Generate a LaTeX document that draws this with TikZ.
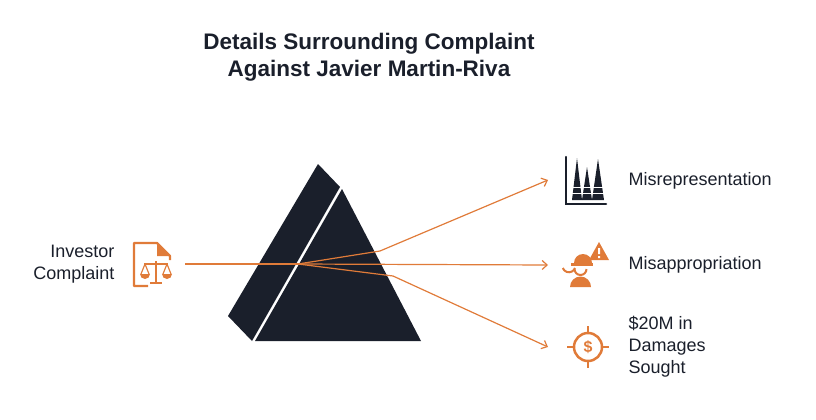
\documentclass[tikz,border=0pt]{standalone}
\usepackage{fontspec}
\setmainfont{Liberation Sans}
\usetikzlibrary{arrows.meta}
\definecolor{org}{HTML}{E07B39}
\definecolor{drk}{HTML}{1A1F2B}
\begin{document}
\begin{tikzpicture}[x=1pt,y=-1pt,
  ray/.style={draw=org,line width=1.2pt},
  arr/.style={ray,-{Straight Barb[length=5pt,width=9pt]}},
  lbl/.style={font=\fontsize{18}{22}\selectfont,text=drk},
  ico/.style={fill=org,draw=none}]
\useasboundingbox (0,0) rectangle (816,420);
\node[font=\bfseries\fontsize{22.5}{27}\selectfont,text=drk,align=center] (title) at (369,57) {Details Surrounding Complaint\\Against Javier Martin-Riva};
% prism
\fill[drk] (318,164) -- (340,187) -- (252,341) -- (228,316) -- cycle;
\fill[drk] (342,189) -- (421,341) -- (255,341) -- cycle;
% rays
\coordinate (src) at (185,264);
\coordinate (o) at (298,264);
\coordinate (b1) at (380,251);
\coordinate (b3) at (393,276);
\coordinate (t1) at (548,180);
\coordinate (t2) at (548,265);
\coordinate (t3) at (548,347);
\draw[ray] (src) -- (o);
\draw[arr] (o) -- (b1) -- (t1);
\draw[arr] (o) -- (t2);
\draw[arr] (o) -- (b3) -- (t3);
% left icon & label
\node[lbl,align=right,anchor=east] (inv) at (118,264) {Investor\\Complaint};
\begin{scope}[shift={(153,264)}]
 \draw[org,line width=2.4pt,line join=round] (-5,22) -- (-19,22) -- (-19,-21) -- (4,-21) -- (17,-8) -- (17,-4);
 \fill[org] (4,-21) -- (17,-8) -- (4,-8) -- cycle;
 \draw[org,line width=2pt] (3,-3) -- (3,18) (-9,0) -- (15,0) (-3,19) -- (9,19);
 \fill[org] (-13,10) arc(180:0:5) -- cycle (9,10) arc(180:0:5) -- cycle;
 \draw[org,line width=1.2pt] (-8,0) -- (-12,10) (-8,0) -- (-4,10) (14,0) -- (10,10) (14,0) -- (18,10);
\end{scope}
% right icons
\begin{scope}[shift={(586,181)}]
 \draw[drk,line width=2.5pt,line cap=round] (-20,-24) -- (-20,23) -- (20,23);
 \fill[drk] (-14,19) -- (-9,-23) -- (-4,19) -- cycle;
 \fill[drk] (-4,19) -- (1,-14) -- (6,19) -- cycle;
 \fill[drk] (6,19) -- (12,-22) -- (18,19) -- cycle;
 \draw[white,line width=1pt] (-14,6) -- (18,6) (-14,12) -- (18,12);
\end{scope}
\node[lbl,anchor=west] (m1) at (625,181) {Misrepresentation};
\begin{scope}[shift={(586,265)}]
 \fill[org] (-12,-2) arc(180:360:9) -- cycle;
 \fill[org] (-15,-2) rectangle (7,1);
 \draw[org,line width=2pt] (-11,3) arc(200:340:-6.5);
 \draw[org,line width=2pt] (-11.5,4) arc(180:0:6);
 \fill[org] (-16,22) arc(180:360:10.5) -- cycle;
 \fill[org] (3,-5) -- (13,-23) -- (23,-5) -- cycle;
 \fill[white] (12,-17) rectangle (14,-11) (12,-9) rectangle (14,-7);
\end{scope}
\node[lbl,anchor=west] (m2) at (625,265) {Misappropriation};
\begin{scope}[shift={(588,347)}]
 \draw[org,line width=2.5pt] (0,0) circle (14);
 \draw[org,line width=2.5pt] (0,-21) -- (0,-13) (0,13) -- (0,21) (-21,0) -- (-13,0) (13,0) -- (21,0);
 \node[text=org,font=\bfseries\fontsize{16}{16}\selectfont] (dol) at (0,0) {\$};
\end{scope}
\node[lbl,anchor=west,align=left] (m3) at (625,347) {\$20M in\\Damages\\Sought};
\end{tikzpicture}
\end{document}
